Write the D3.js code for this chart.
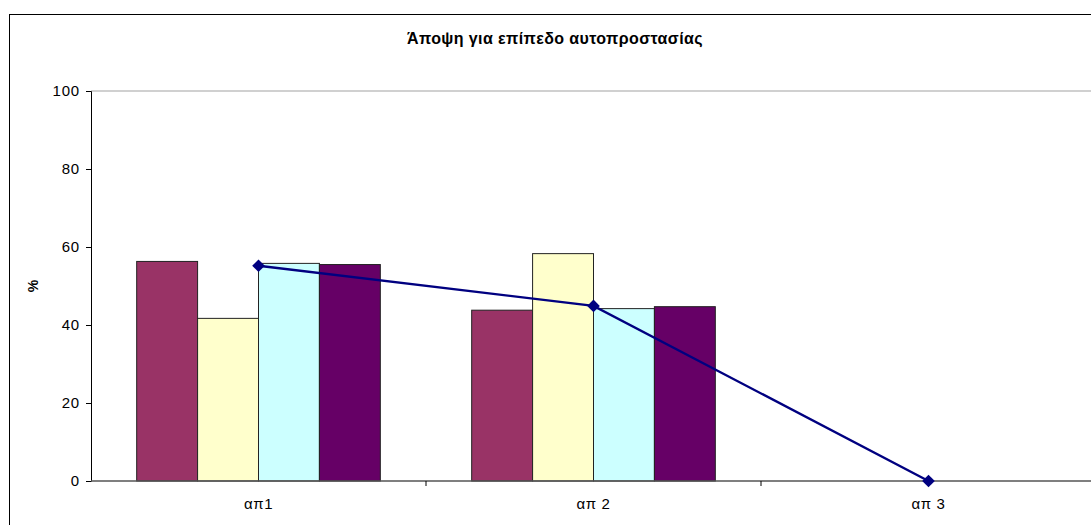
<!DOCTYPE html>
<html>
<head>
<meta charset="utf-8">
<script src="https://cdn.jsdelivr.net/npm/d3@7"></script>
<style>
  html, body { margin: 0; padding: 0; background: #fff; }
  svg { display: block; font-family: "Liberation Sans", Arial, sans-serif; }
</style>
</head>
<body>
<svg id="chart" width="1091" height="525"></svg>
<script>
// Categories and values (percent)
const categories = ["απ1", "απ 2", "απ 3"];
const seriesA = [56.3, 43.8, null];
const seriesB = [41.7, 58.3, null];
const seriesC = [55.8, 44.2, null];
const seriesD = [55.5, 44.7, null];
const lineValues = [55.2, 44.9, 0];
const yTicks = [0, 20, 40, 60, 80, 100];
const barColors = ["#993366", "#FFFFCC", "#CCFFFF", "#660066"];
const title = "Άποψη για επίπεδο αυτοπροστασίας";

const svg = d3.select("#chart");
const W = 1091, H = 525;

// outer chart frame
svg.append("rect")
  .attr("x", 9.5).attr("y", 14.5)
  .attr("width", W + 10).attr("height", H)
  .attr("fill", "#fff").attr("stroke", "#000").attr("stroke-width", 1);

const plot = { left: 91, top: 91, right: 1096, bottom: 481 };

const x = d3.scaleBand().domain(categories).range([plot.left, plot.right]);
const y = d3.scaleLinear().domain([0, 100]).range([plot.bottom, plot.top]);

// inner band for the four bars (gap width 150%)
const barSeries = [seriesA, seriesB, seriesC, seriesD];
const groupWidth = x.bandwidth() * 4 / 5.5;
const inner = d3.scaleBand().domain(d3.range(barSeries.length)).range([0, groupWidth]);
const groupOffset = (x.bandwidth() - groupWidth) / 2;

// top gridline
svg.append("line")
  .attr("x1", plot.left).attr("x2", W)
  .attr("y1", y(100)).attr("y2", y(100))
  .attr("stroke", "#c0c0c0").attr("stroke-width", 1.5);

// bars
barSeries.forEach((vals, si) => {
  svg.append("g").selectAll("rect")
    .data(vals.map((v, i) => ({ v, c: categories[i] })).filter(d => d.v != null))
    .join("rect")
    .attr("x", d => x(d.c) + groupOffset + inner(si))
    .attr("y", d => y(d.v))
    .attr("width", inner.bandwidth())
    .attr("height", d => y(0) - y(d.v))
    .attr("fill", barColors[si])
    .attr("stroke", "#222")
    .attr("stroke-width", 1);
});

const labelFont = "Liberation Sans, Arial, sans-serif";

// y axis
const yAxis = svg.append("g")
  .attr("transform", `translate(${plot.left},0)`)
  .call(d3.axisLeft(y).tickValues(yTicks).tickSize(5).tickPadding(6));
yAxis.select(".domain").attr("stroke", "#000");
yAxis.selectAll(".tick line").attr("stroke", "#000");
yAxis.selectAll("text").attr("font-size", 15).attr("fill", "#000")
  .attr("letter-spacing", 0.8)
  .attr("font-family", labelFont);

// x axis
const xAxis = svg.append("g")
  .attr("transform", `translate(0,${plot.bottom})`)
  .call(d3.axisBottom(x).tickSize(0).tickPadding(17));
xAxis.select(".domain").attr("stroke", "#555").attr("stroke-width", 1.5)
  .attr("d", `M${plot.left},0H${W}`);
xAxis.selectAll("text").attr("font-size", 15).attr("fill", "#000")
  .attr("letter-spacing", 0.6)
  .attr("font-family", labelFont);
// tick marks between categories
const bounds = categories.slice(1).map(c => x(c));
xAxis.selectAll(".sep").data(bounds).join("line")
  .attr("class", "sep")
  .attr("x1", d => d).attr("x2", d => d)
  .attr("y1", 0).attr("y2", 5)
  .attr("stroke", "#000");

// line series
const line = d3.line()
  .x((d, i) => x(categories[i]) + x.bandwidth() / 2)
  .y(d => y(d));
svg.append("path")
  .datum(lineValues)
  .attr("d", line)
  .attr("fill", "none")
  .attr("stroke", "#000080")
  .attr("stroke-width", 2.4);
svg.append("g").selectAll("path")
  .data(lineValues)
  .join("path")
  .attr("d", d3.symbol().type(d3.symbolSquare).size(80))
  .attr("transform", (d, i) => `translate(${x(categories[i]) + x.bandwidth() / 2},${y(d)}) rotate(45)`)
  .attr("fill", "#000080");

// title
svg.append("text")
  .attr("x", 555).attr("y", 44)
  .attr("text-anchor", "middle")
  .attr("font-size", 16)
  .attr("font-weight", "bold")
  .attr("letter-spacing", 0.4)
  .attr("fill", "#000")
  .text(title);

// y axis title
svg.append("text")
  .attr("transform", `translate(38,${(plot.top + plot.bottom) / 2}) rotate(-90)`)
  .attr("text-anchor", "middle")
  .attr("font-size", 14)
  .attr("font-weight", "bold")
  .text("%");
</script>
</body>
</html>
